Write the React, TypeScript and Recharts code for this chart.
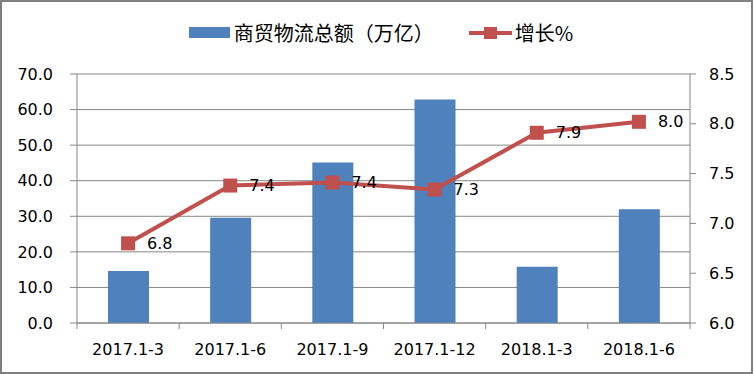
import React from 'react'
import {
  ComposedChart,
  Bar,
  Line,
  XAxis,
  YAxis,
  CartesianGrid,
  Legend,
  LabelList,
} from 'recharts'

const categories = ['2017.1-3', '2017.1-6', '2017.1-9', '2017.1-12', '2018.1-3', '2018.1-6']
const tradeTotal = [14.6, 29.6, 45.1, 62.8, 15.8, 32.0]
const growth = [6.8, 7.38, 7.41, 7.34, 7.91, 8.02]
const leftTicks = [0, 10, 20, 30, 40, 50, 60, 70]
const rightTicks = [6.0, 6.5, 7.0, 7.5, 8.0, 8.5]

const barName = '商贸物流总额（万亿）'
const lineName = '增长%'

const data = categories.map((c, i) => ({ name: c, total: tradeTotal[i], growth: growth[i] }))

const W = 754
const H = 374
const PLOT_LEFT = 77
const PLOT_RIGHT = 690
const GRID = '#868686'
const BLUE = '#4F81BD'
const RED = '#C0504D'
const NUM_FONT = '"DejaVu Sans", Verdana, sans-serif'

const SquareDot = (props: { cx?: number; cy?: number }) => {
  const { cx, cy } = props
  if (cx == null || cy == null) return null
  const s = 14
  return <rect x={cx - s / 2} y={cy - s / 2} width={s} height={s} fill={RED} />
}

const CategoryTick = (props: { x?: number; y?: number; payload?: { value: string }; index?: number }) => {
  const { x = 0, y = 0, payload, index = 0 } = props
  const step = (PLOT_RIGHT - PLOT_LEFT) / categories.length
  const axisY = y - 8
  return (
    <g>
      <line x1={x - step / 2} x2={x - step / 2} y1={axisY} y2={axisY + 6} stroke={GRID} />
      {index === categories.length - 1 && (
        <line x1={x + step / 2} x2={x + step / 2} y1={axisY} y2={axisY + 6} stroke={GRID} />
      )}
      <text x={x} y={y + 24} textAnchor="middle" fill="#000" fontSize={16} fontFamily={NUM_FONT}>
        {payload?.value}
      </text>
    </g>
  )
}

const LegendContent = () => (
  <div
    style={{
      display: 'flex',
      justifyContent: 'center',
      alignItems: 'center',
      width: W,
      paddingLeft: 8,
      boxSizing: 'border-box',
      fontFamily: '"Noto Sans CJK SC", sans-serif',
      fontSize: 20,
      color: '#000',
    }}
  >
    <span style={{ display: 'inline-block', width: 41, height: 11, background: BLUE, marginRight: 4 }} />
    <span>{barName}</span>
    <svg width={43} height={14} style={{ marginLeft: 35, marginRight: 3 }}>
      <line x1={0} x2={43} y1={7} y2={7} stroke={RED} strokeWidth={4} />
      <rect x={15} y={1} width={13} height={12} fill={RED} />
    </svg>
    <span>{lineName}</span>
  </div>
)

export default function App() {
  return (
    <div style={{ position: 'absolute', left: 0, top: 0, width: W, height: H, background: '#fff' }}>
      <ComposedChart
        width={W}
        height={H}
        data={data}
        margin={{ top: 74, right: 0, bottom: 0, left: 0 }}
        barSize={41}
      >
        <CartesianGrid vertical={false} stroke={GRID} yAxisId="left" />
        <XAxis
          dataKey="name"
          height={51}
          axisLine={{ stroke: GRID }}
          tickLine={false}
          tick={<CategoryTick />}
          interval={0}
        />
        <YAxis
          yAxisId="left"
          width={77}
          domain={[0, 70]}
          ticks={leftTicks}
          tickFormatter={(v: number) => v.toFixed(1)}
          axisLine={{ stroke: GRID }}
          tickLine={{ stroke: GRID }}
          tickSize={7}
          tickMargin={17}
          tick={{ fontSize: 16, fill: '#000', fontFamily: NUM_FONT }}
        />
        <YAxis
          yAxisId="right"
          orientation="right"
          width={64}
          domain={[6, 8.5]}
          ticks={rightTicks}
          tickFormatter={(v: number) => v.toFixed(1)}
          axisLine={{ stroke: GRID }}
          tickLine={{ stroke: GRID }}
          tickSize={6}
          tickMargin={13}
          tick={{ fontSize: 16, fill: '#000', fontFamily: NUM_FONT }}
        />
        <Legend
          layout="horizontal"
          verticalAlign="middle"
          align="center"
          wrapperStyle={{ top: 18, left: 0, width: W }}
          content={<LegendContent />}
        />
        <Bar yAxisId="left" dataKey="total" name={barName} fill={BLUE} isAnimationActive={false} />
        <Line
          yAxisId="right"
          dataKey="growth"
          name={lineName}
          stroke={RED}
          strokeWidth={4}
          dot={<SquareDot />}
          activeDot={false}
          isAnimationActive={false}
        >
          <LabelList
            dataKey="growth"
            position="right"
            offset={19}
            formatter={(v: number) => Number(v).toFixed(1)}
            style={{ fontSize: 16, fill: '#000', fontFamily: NUM_FONT }}
          />
        </Line>
      </ComposedChart>
      <div
        style={{
          position: 'absolute',
          left: 0,
          top: 0,
          width: 753,
          height: 374,
          border: '2px solid #7F7F7F',
          boxSizing: 'border-box',
          pointerEvents: 'none',
        }}
      />
    </div>
  )
}
